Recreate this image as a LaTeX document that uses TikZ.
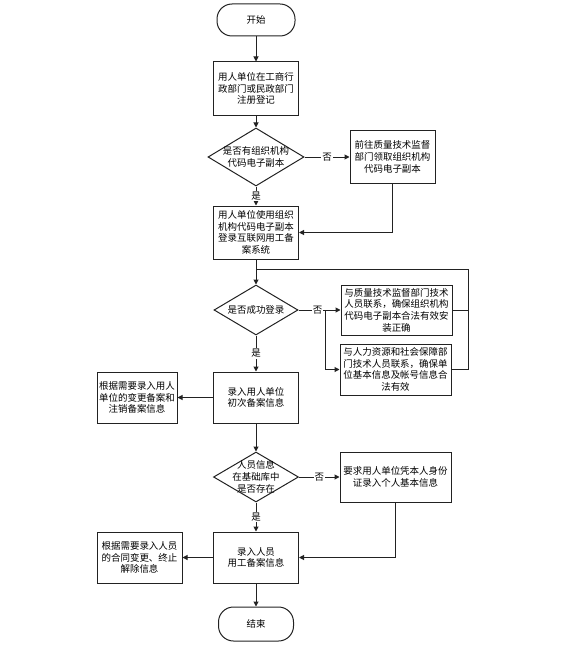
\documentclass[tikz,border=0pt]{standalone}
\usepackage{fontspec}
\usepackage{tikz}
\usetikzlibrary{positioning,arrows.meta,shapes.geometric,calc}
\newfontfamily\cjk{Noto Sans CJK SC}
\definecolor{fcline}{HTML}{222222}

\begin{document}
\begin{tikzpicture}[
      x=1bp, y=-1bp,
      font=\cjk\fontsize{9.5}{11.7}\selectfont,
      box/.style={draw=fcline, line width=1bp, align=center, minimum width=85bp,
                  minimum height=52bp, inner sep=1bp},
      wbox/.style={box, minimum width=111bp},
      term/.style={draw=fcline, line width=1bp, rounded corners=15bp,
                   minimum width=78bp, minimum height=32bp},
      dia/.style={draw=fcline, line width=1bp, diamond, inner sep=0pt,
                  minimum width=85bp, minimum height=50bp},
      txt/.style={align=center, inner sep=0pt},
      arr/.style={-{Triangle[length=5bp,width=5bp]}, line width=1bp, draw=fcline},
      ln/.style={line width=1bp, draw=fcline},
      yn/.style={fill=white, inner sep=1bp}
    ]
    \useasboundingbox (0,0) rectangle (565,660);
    % ------------- Registration -------------
    \node[term] (start) at (256,20) {开始};
    \node[box, minimum height=53bp] (reg) at (256,88.5) {用人单位在工商行\\政部门或民政部门\\注册登记};
    \node[dia, minimum width=96bp, minimum height=58bp,
          label={[txt]center:是否有组织机构\\代码电子副本}] (hascode) at (256,157) {};
    \node[box, minimum height=53bp] (getcode) at (392.5,157) {前往质量技术监督\\部门领取组织机构\\代码电子副本};
    \node[box, minimum height=53bp] (login) at (256,232.5) {用人单位使用组织\\机构代码电子副本\\登录互联网用工备\\案系统};
    \draw[arr] (start) -- (reg);
    \draw[arr] (reg) -- (hascode);
    \draw[arr] (hascode) -- node[yn]{否} (getcode);
    \draw[arr] (hascode) -- node[yn]{是} (login);
    \draw[arr] (getcode.south) |- (login.east);
    % ------------- Login -------------
    \node[dia, minimum width=84bp, label={[txt]center:是否成功登录}] (dlogin) at (256,310) {};
    \node[wbox, minimum height=50bp] (contact3) at (396.5,310) {与质量技术监督部门技术\\人员联系，确保组织机构\\代码电子副本合法有效安\\装正确};
    \node[wbox, minimum height=51bp] (contact4) at (395.5,369.5) {与人力资源和社会保障部\\门技术人员联系，确保单\\位基本信息及帐号信息合\\法有效};
    \coordinate (split) at (325,310);
    \coordinate (loopr) at (468,269);
    \draw[arr] (login) -- (dlogin);
    \draw[ln] (dlogin.east) -- node[yn, pos=0.72]{否} (split);
    \draw[arr] (split) -- (contact3.west);
    \draw[arr] (split) |- (contact4.west);
    \draw[ln] (contact3.east) -- (contact3.east -| loopr);
    \draw[ln] (contact4.east) -| (loopr) -- (loopr -| login.south);
    % ------------- Unit filing -------------
    \node[box, minimum height=51bp] (initial) at (256,397.5) {录入用人单位\\初次备案信息};
    \node[box, minimum width=80bp, minimum height=51bp] (change1) at (137,397.5) {根据需要录入用人\\单位的变更备案和\\注销备案信息};
    \draw[arr] (dlogin) -- node[yn]{是} (initial);
    \draw[arr] (initial) -- (change1);
    % ------------- Staff filing -------------
    \node[dia, label={[txt]center:人员信息\\在基础库中\\是否存在}] (dexist) at (256,477) {};
    \node[wbox, minimum height=50bp] (personal) at (395.5,477) {要求用人单位凭本人身份\\证录入个人基本信息};
    \node[box, minimum height=51bp] (staff) at (256,557.5) {录入人员\\用工备案信息};
    \node[box, minimum height=51bp] (change2) at (139.5,557.5) {根据需要录入人员\\的合同变更、终止\\解除信息};
    \node[term, minimum width=75bp, minimum height=34bp] (end) at (256,624) {结束};
    \draw[arr] (initial) -- (dexist);
    \draw[arr] (dexist) -- node[yn]{否} (personal);
    \draw[arr] (dexist) -- node[yn]{是} (staff);
    \draw[arr] (personal.south) |- (staff.east);
    \draw[arr] (staff) -- (change2);
    \draw[arr] (staff) -- (end);
  \end{tikzpicture}
\end{document}
